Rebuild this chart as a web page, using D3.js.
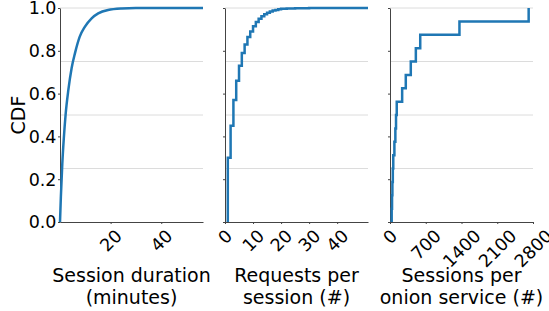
<!DOCTYPE html>
<html>
<head>
<meta charset="utf-8">
<script src="https://cdn.jsdelivr.net/npm/d3@7"></script>
<style>
  body { margin: 0; background: #fff; }
  svg { font-family: "DejaVu Sans", sans-serif; }
  .domain { stroke: #444; }
  .tick line { stroke: #444; }
</style>
</head>
<body>
<svg id="chart" width="549" height="311"></svg>
<script>
// session duration (minutes) vs CDF
var durationMin = [0, 0.35, 0.9, 1.5, 2.2, 3.3, 4.6, 5.9, 7.8, 9.8, 12.5, 15.1, 19, 24.4, 30, 56.5];
var durationCdf = [0, 0.12, 0.27, 0.39, 0.5, 0.617, 0.72, 0.788, 0.866, 0.912, 0.952, 0.975, 0.991, 0.998, 1, 1];

// requests per session: step heights at each count
var requestsNum = [1, 2, 3, 4, 5, 6, 7, 8, 9, 10, 11, 12, 13, 14, 15, 16, 17, 18, 19, 20, 22, 25, 30, 51];
var requestsCdf = [0.30, 0.45, 0.57, 0.66, 0.73, 0.79, 0.83, 0.865, 0.89, 0.915, 0.935, 0.95, 0.962, 0.971, 0.978, 0.984, 0.988, 0.991, 0.994, 0.996, 0.998, 0.999, 1, 1];

// sessions per onion service (16 services)
var sessionsPerService = [33, 40, 47, 55, 64, 86, 105, 118, 132, 238, 309, 407, 506, 592, 1360, 2715];

var yTicks = [0, 0.2, 0.4, 0.6, 0.8, 1.0];
var gridLevels = [0.25, 0.5, 0.75, 1.0];

var xTicksDuration = [20, 40];
var xTicksRequests = [0, 10, 20, 30, 40];
var xTicksSessions = [0, 700, 1400, 2100, 2800];

var labels = [
  ["Session duration", "(minutes)"],
  ["Requests per", "session (#)"],
  ["Sessions per", "onion service (#)"]
];

//ecdf of the onion service sample
var sessionsCdf = sessionsPerService.map(function(v, i) { return (i + 1) / sessionsPerService.length; });

var panels = [
  {left: 60, domain: [0, 56.5], ticks: xTicksDuration, step: false,
   pts: durationMin.map(function(v, i) { return [v, durationCdf[i]]; })},
  {left: 225, domain: [0, 51], ticks: xTicksRequests, step: true,
   pts: [[requestsNum[0], 0]].concat(requestsNum.map(function(v, i) { return [v, requestsCdf[i]]; }))},
  {left: 390, domain: [0, 2800], ticks: xTicksSessions, step: true,
   pts: [[sessionsPerService[0], 0]].concat(sessionsPerService.map(function(v, i) { return [v, sessionsCdf[i]]; }))}
];

var pw = 143;
var yTop = 8, yBottom = 222;
var tickFs = 17.5, labFs = 19;

var svg = d3.select("#chart");

var y = d3.scaleLinear().domain([0, 1]).range([yBottom, yTop]);

panels.forEach(function(p, pi) {
  var x = d3.scaleLinear().domain(p.domain).range([p.left, p.left + pw]);
  var g = svg.append("g");

  // gridlines
  g.selectAll(".grid").data(gridLevels).join("line")
    .attr("x1", p.left).attr("x2", p.left + pw)
    .attr("y1", function(d) { return y(d); }).attr("y2", function(d) { return y(d); })
    .attr("stroke", "#dcdcdc").attr("stroke-width", 1);

  // axes
  g.append("g")
    .attr("transform", "translate(0," + yBottom + ")")
    .call(d3.axisBottom(x).tickValues(p.ticks).tickSize(2).tickSizeOuter(0).tickFormat(""));
  g.append("g")
    .attr("transform", "translate(" + p.left + ",0)")
    .call(d3.axisLeft(y).tickValues(yTicks).tickSize(2).tickSizeOuter(0).tickFormat(""));

  // rotated x tick labels, centred on the tick
  g.selectAll(".xt").data(p.ticks).join("text")
    .attr("text-anchor", "middle")
    .attr("font-size", tickFs)
    .attr("fill", "#000")
    .text(function(d) { return d; })
    .each(function(d) {
      var w = this.getComputedTextLength();
      var h = tickFs * 0.73;
      var half = (w + h) / Math.SQRT2 / 2;
      d3.select(this)
        .attr("dy", h / 2)
        .attr("transform", "translate(" + x(d) + "," + (yBottom + 6 + half) + ") rotate(-45)");
    });

  if (pi == 0) {
    g.selectAll(".yt").data(yTicks).join("text")
      .attr("x", p.left - 3.5)
      .attr("y", function(d) { return y(d); })
      .attr("dy", tickFs * 0.365)
      .attr("text-anchor", "end")
      .attr("font-size", tickFs)
      .text(function(d) { return d.toFixed(1); });

    svg.append("text")
      .attr("transform", "translate(25," + y(0.5) + ") rotate(-90)")
      .attr("text-anchor", "middle")
      .attr("font-size", labFs)
      .text("CDF");
  }

  // x axis label, two lines
  var cx = p.left + pw / 2;
  labels[pi].forEach(function(t, li) {
    svg.append("text")
      .attr("x", cx)
      .attr("y", 282 + li * 22)
      .attr("text-anchor", "middle")
      .attr("font-size", labFs)
      .text(t);
  });

  var line = d3.line()
    .x(function(d) { return x(d[0]); })
    .y(function(d) { return y(d[1]); })
    .curve(p.step ? d3.curveStepAfter : d3.curveMonotoneX);

  g.append("path")
    .datum(p.pts)
    .attr("d", line)
    .attr("fill", "none")
    .attr("stroke", "#1f77b4")
    .attr("stroke-width", 2.5)
    .attr("stroke-linejoin", "miter");
});
</script>
</body>
</html>
